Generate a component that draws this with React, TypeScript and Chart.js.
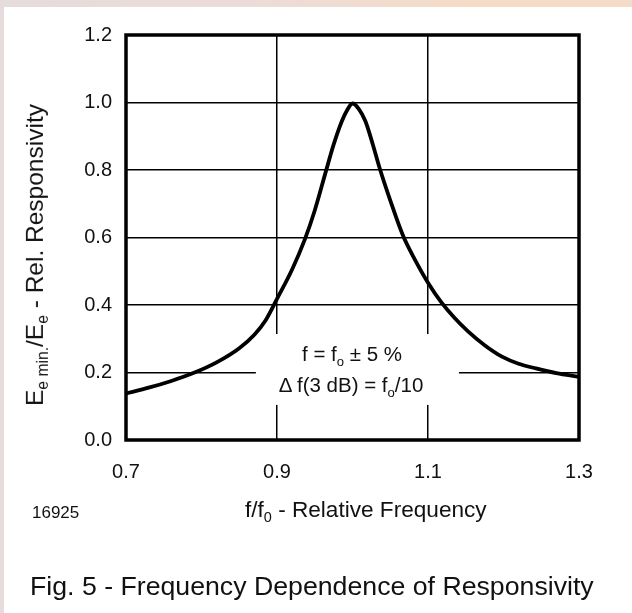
import React, { useEffect, useRef } from "react";
import { Chart, registerables } from "chart.js";

Chart.register(...registerables);

// f/f0 - relative frequency
const freqRatio = [
  0.70, 0.73, 0.76, 0.79, 0.82, 0.85, 0.87, 0.885, 0.90, 0.92, 0.937, 0.95,
  0.964, 0.975, 0.986, 0.993, 1.0, 1.008, 1.017, 1.027, 1.036, 1.05, 1.067, 1.083,
  1.10, 1.117, 1.135, 1.153, 1.175, 1.198, 1.22, 1.243, 1.27, 1.30,
];
// Ee min./Ee - relative responsivity
const relResponsivity = [
  0.138, 0.155, 0.175, 0.199, 0.230, 0.272, 0.312, 0.355, 0.418, 0.505, 0.595, 0.680,
  0.790, 0.875, 0.945, 0.978, 0.997, 0.982, 0.945, 0.875, 0.805, 0.710, 0.605, 0.533,
  0.466, 0.410, 0.362, 0.322, 0.281, 0.247, 0.226, 0.212, 0.198, 0.187,
];
const xTickValues = [0.7, 0.9, 1.1, 1.3];
const yTickValues = [0.0, 0.2, 0.4, 0.6, 0.8, 1.0, 1.2];
const noteBox = { xMin: 0.872, xMax: 1.141, yMin: 0.104, yMax: 0.314 };

const FONT = '"Liberation Sans", Arial, Helvetica, sans-serif';

const framePlugin = {
  id: "frame",
  beforeDatasetsDraw(chart: any) {
    const { ctx, scales } = chart;
    const x = scales.x, y = scales.y;
    const l = x.getPixelForValue(noteBox.xMin);
    const r = x.getPixelForValue(noteBox.xMax);
    const t = y.getPixelForValue(noteBox.yMax);
    const b = y.getPixelForValue(noteBox.yMin);
    ctx.save();
    ctx.fillStyle = "#ffffff";
    ctx.fillRect(l, t, r - l, b - t);
    ctx.restore();
  },
  afterDraw(chart: any) {
    const { ctx, chartArea } = chart;
    ctx.save();
    ctx.strokeStyle = "#000";
    ctx.lineWidth = 3.5;
    ctx.strokeRect(chartArea.left, chartArea.top, chartArea.right - chartArea.left, chartArea.bottom - chartArea.top);
    ctx.restore();
  },
};

export default function App() {
  const canvasRef = useRef<HTMLCanvasElement | null>(null);

  useEffect(() => {
    const canvas = canvasRef.current;
    if (!canvas) return;
    const chart = new Chart(canvas, {
      type: "line",
      data: {
        datasets: [
          {
            data: freqRatio.map((f, i) => ({ x: f, y: relResponsivity[i] })),
            borderColor: "#000",
            borderWidth: 3.8,
            pointRadius: 0,
            cubicInterpolationMode: "monotone",
            fill: false,
          },
        ],
      },
      options: {
        responsive: false,
        animation: false,
        devicePixelRatio: 1,
        layout: { padding: { left: 0, right: 53, top: 35, bottom: 0 } },
        plugins: { legend: { display: false }, tooltip: { enabled: false }, title: { display: false } },
        scales: {
          x: {
            type: "linear",
            min: 0.7,
            max: 1.3,
            afterBuildTicks: (s: any) => {
              s.ticks = xTickValues.map((v) => ({ value: v }));
            },
            afterFit: (s: any) => {
              s.height = 173;
            },
            grid: { color: "#000", lineWidth: 1.5, drawTicks: false },
            border: { display: false },
            ticks: {
              color: "#111",
              padding: 20,
              font: { family: FONT, size: 20 },
              callback: (v: any) => Number(v).toFixed(1),
              maxRotation: 0,
            },
          },
          y: {
            type: "linear",
            min: 0,
            max: 1.2,
            afterBuildTicks: (s: any) => {
              s.ticks = yTickValues.map((v) => ({ value: v }));
            },
            afterFit: (s: any) => {
              s.width = 126;
            },
            grid: { color: "#000", lineWidth: 1.5, drawTicks: false },
            border: { display: false },
            ticks: {
              color: "#111",
              padding: 14,
              font: { family: FONT, size: 20 },
              callback: (v: any) => Number(v).toFixed(1),
            },
          },
        },
      },
      plugins: [framePlugin],
    } as any);
    return () => chart.destroy();
  }, []);

  const txt: React.CSSProperties = {
    position: "absolute",
    fontFamily: FONT,
    color: "#111",
    whiteSpace: "nowrap",
    lineHeight: 1,
  };
  const sub: React.CSSProperties = { fontSize: "0.64em", verticalAlign: "-0.35em" };

  return (
    <div
      style={{
        position: "absolute",
        left: 0,
        top: 0,
        width: 632,
        height: 613,
        overflow: "hidden",
        background: "linear-gradient(90deg, #e6dcdc 0%, #ecdcd8 40%, #f5dcc6 75%, #f3dcc8 100%)",
      }}
    >
      <div style={{ position: "absolute", left: 4, top: 7, right: 0, bottom: 0, background: "#fff" }} />
      <canvas ref={canvasRef} width={632} height={613} style={{ position: "absolute", left: 0, top: 0, display: "block" }} />
      {/* y axis title */}
      <div
        style={{
          ...txt,
          fontSize: 24.5,
          left: 37,
          top: 255,
          transform: "translate(-50%, -50%) rotate(-90deg)",
        }}
      >
        E<span style={sub}>e min.</span>/E<span style={sub}>e</span> - Rel. Responsivity
      </div>
      {/* x axis title */}
      <div style={{ ...txt, fontSize: 22.6, left: 245, top: 499 }}>
        f/f<span style={sub}>0</span> - Relative Frequency
      </div>
      <div style={{ ...txt, fontSize: 17, left: 32, top: 504 }}>16925</div>
      {/* annotation */}
      <div style={{ ...txt, fontSize: 20.5, left: 352, top: 344, transform: "translateX(-50%)", textAlign: "center" }}>
        f = f<span style={sub}>o</span> ± 5 %
      </div>
      <div style={{ ...txt, fontSize: 20.5, left: 351, top: 375, transform: "translateX(-50%)", textAlign: "center" }}>
        Δ f(3 dB) = f<span style={sub}>o</span>/10
      </div>
      {/* caption */}
      <div style={{ ...txt, fontSize: 26.7, left: 30, top: 573 }}>
        Fig. 5 - Frequency Dependence of Responsivity
      </div>
    </div>
  );
}
